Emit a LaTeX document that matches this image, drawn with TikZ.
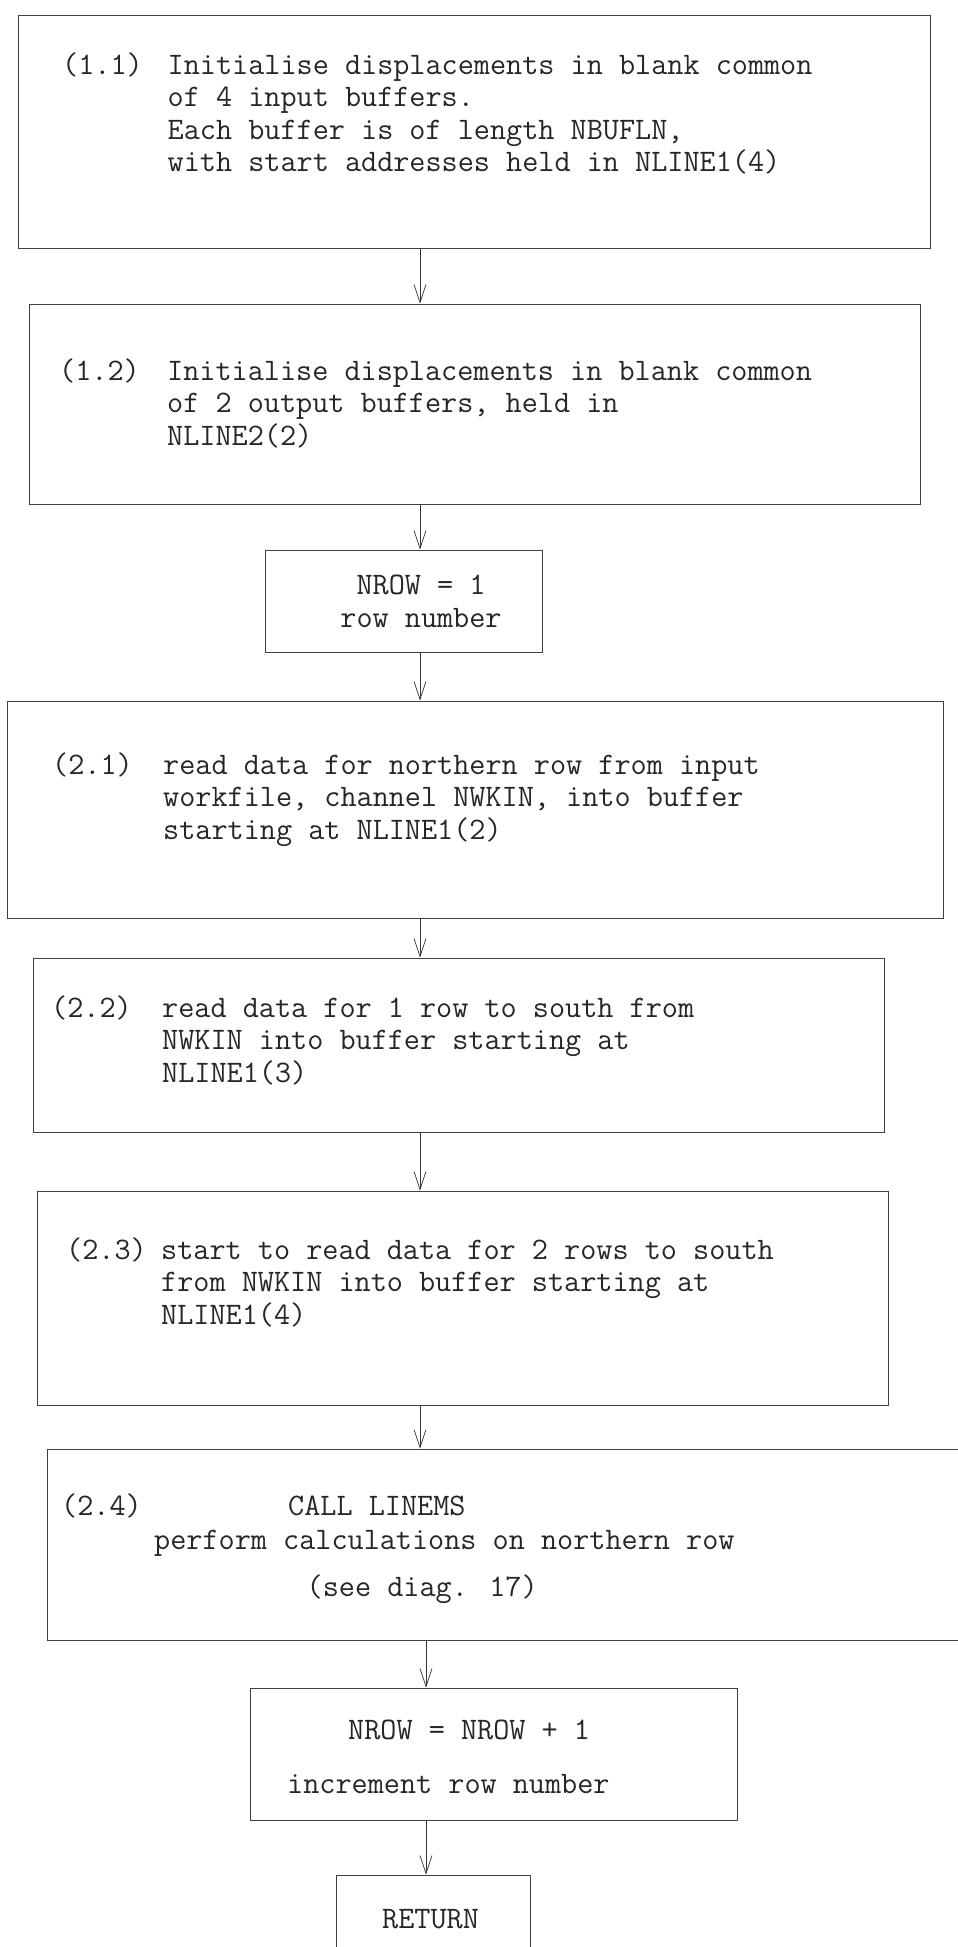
\documentclass[tikz,border=0pt]{standalone}
\usepackage{tikz}
\usetikzlibrary{arrows.meta, positioning, calc}

\begin{document}
\begin{tikzpicture}[
    x=1pt, y=-1pt,
    box/.style={draw=black!75, line width=0.7pt, rectangle, inner sep=0pt},
    txt/.style={font=\ttfamily\fontsize{31.3}{32.5}\selectfont, align=left, anchor=base west, inner sep=0pt, text=black!85},
    tag/.style={txt},
    arrow/.style={-{Straight Barb[length=18pt, width=12pt]}, draw=black!80, line width=0.7pt},
]
\useasboundingbox (0,0) rectangle (958,1947);

% Boxes
\node[box, minimum width=912pt, minimum height=233pt] (init1) at (474.7,131.5) {};
\node[box, minimum width=891pt, minimum height=200pt] (init2) at (474.5,404) {};
\node[box, minimum width=277pt, minimum height=102pt] (first) at (403.5,601) {};
\node[box, minimum width=936pt, minimum height=217pt] (read1) at (475,809.5) {};
\node[box, minimum width=851pt, minimum height=174pt] (read2) at (458.5,1045) {};
\node[box, minimum width=851pt, minimum height=214pt] (read3) at (462.5,1298) {};
\node[box, minimum width=928pt, minimum height=191pt] (calc) at (511,1544.5) {};
\node[box, minimum width=487pt, minimum height=132pt] (incr) at (493.5,1754) {};
\node[box, minimum width=194pt, minimum height=91pt] (ret) at (433,1920.5) {};

% Texts (multi-line nodes sit on the baseline of their last line)
\node[tag] (t11) at (62,74) {(1.1)};
\node[txt] (x11) at (167.5,171.5) {Initialise displacements in blank common\\of 4 input buffers.\\Each buffer is of length NBUFLN,\\with start addresses held in NLINE1(4)};

\node[tag] (t12) at (59,380) {(1.2)};
\node[txt] (x12) at (167,445) {Initialise displacements in blank common\\of 2 output buffers, held in\\NLINE2(2)};

\node[txt, align=center, anchor=base] (xfirst) at (421,627) {NROW = 1\\row number};

\node[tag] (t21) at (52,774) {(2.1)};
\node[txt] (x21) at (163,839) {read data for northern row from input\\workfile, channel NWKIN, into buffer\\starting at NLINE1(2)};

\node[tag] (t22) at (51,1017) {(2.2)};
\node[txt] (x22) at (162,1082) {read data for 1 row to south from\\NWKIN into buffer starting at\\NLINE1(3)};

\node[tag] (t23) at (66,1259) {(2.3)};
\node[txt] (x23) at (161,1324) {start to read data for 2 rows to south\\from NWKIN into buffer starting at\\NLINE1(4)};

\node[tag] (t24) at (61,1515) {(2.4)};
\node[txt] (call) at (288,1515) {CALL LINEMS};
\node[txt] (perf) at (154,1549.5) {perform calculations on northern row};
\node[txt] (see) at (306.5,1596.5) {(see diag. 17)};

\node[txt] (xincr) at (348,1739) {NROW = NROW + 1};
\node[txt] (yincr) at (287,1793) {increment row number};

\node[txt] (xret) at (382,1928) {RETURN};

% Arrows
\coordinate (spine) at (420,0);
\coordinate (spine2) at (426,0);
\draw[arrow] (init1.south -| spine) -- (init2.north -| spine);
\draw[arrow] (init2.south -| spine) -- (first.north -| spine);
\draw[arrow] (first.south -| spine) -- (read1.north -| spine);
\draw[arrow] (read1.south -| spine) -- (read2.north -| spine);
\draw[arrow] (read2.south -| spine) -- (read3.north -| spine);
\draw[arrow] (read3.south -| spine) -- (calc.north -| spine);
\draw[arrow] (calc.south -| spine2) -- (incr.north -| spine2);
\draw[arrow] (incr.south -| spine2) -- (ret.north -| spine2);

\end{tikzpicture}
\end{document}
